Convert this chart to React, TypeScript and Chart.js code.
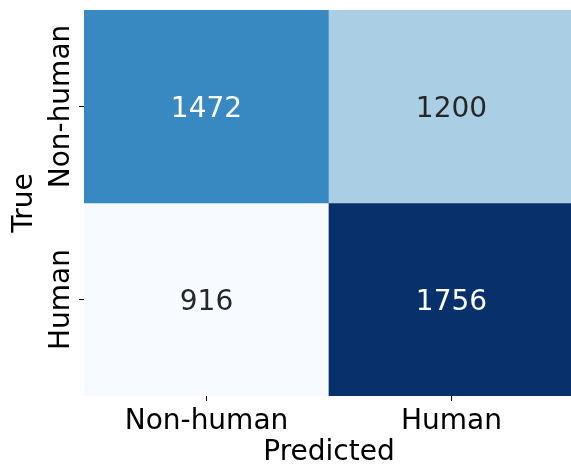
import React, { useEffect, useRef } from 'react';
import { Chart, registerables } from 'chart.js';

Chart.register(...registerables);

const predictedLabels = ['Non-human', 'Human'];
const trueLabels = ['Non-human', 'Human'];
const rowNonHuman = [1472, 1200];
const rowHuman = [916, 1756];
const rows = [rowNonHuman, rowHuman];
const xTitle = 'Predicted';
const yTitle = 'True';

const FONT = '"DejaVu Sans", Verdana, sans-serif';

// matplotlib "Blues" colormap stops
const BLUES = [
  [247, 251, 255], [222, 235, 247], [198, 219, 239], [158, 202, 225],
  [107, 174, 214], [66, 146, 198], [33, 113, 181], [8, 81, 156], [8, 48, 107],
];
const allVals = rows.flat();
const vmin = Math.min(...allVals);
const vmax = Math.max(...allVals);

function blues(v: number): number[] {
  const t = Math.max(0, Math.min(1, (v - vmin) / (vmax - vmin)));
  const p = t * (BLUES.length - 1);
  const i = Math.min(BLUES.length - 2, Math.floor(p));
  const f = p - i;
  return BLUES[i].map((c, k) => Math.round(c + (BLUES[i + 1][k] - c) * f));
}
function cellColor(v: number) {
  const [r, g, b] = blues(v);
  return `rgb(${r},${g},${b})`;
}
function textColor(v: number) {
  const lin = blues(v).map((c) => {
    const s = c / 255;
    return s <= 0.03928 ? s / 12.92 : Math.pow((s + 0.055) / 1.055, 2.4);
  });
  const lum = 0.2126 * lin[0] + 0.7152 * lin[1] + 0.0722 * lin[2];
  return lum > 0.408 ? '#262626' : '#ffffff';
}

const annotatePlugin = {
  id: 'annotate',
  afterDatasetsDraw(chart: any) {
    const { ctx } = chart;
    const x = chart.scales.x;
    const y = chart.scales.y;
    ctx.save();
    ctx.font = `28px ${FONT}`;
    ctx.textAlign = 'center';
    ctx.textBaseline = 'alphabetic';
    rows.forEach((row, r) => {
      row.forEach((v, c) => {
        const px = x.getPixelForValue(c);
        const py = y.getPixelForValue(r + 0.5);
        ctx.fillStyle = textColor(v);
        ctx.fillText(String(v), px, py + 10);
      });
    });
    ctx.restore();
  },
  afterDraw(chart: any) {
    const { ctx } = chart;
    const y = chart.scales.y;
    ctx.save();
    ctx.font = `28px ${FONT}`;
    ctx.fillStyle = '#000000';
    ctx.textAlign = 'center';
    ctx.textBaseline = 'alphabetic';
    trueLabels.forEach((lab, r) => {
      const py = y.getPixelForValue(r + 0.5);
      ctx.save();
      ctx.translate(69, py);
      ctx.rotate(-Math.PI / 2);
      ctx.fillText(lab, 0, 0);
      ctx.restore();
    });
    ctx.restore();
  },
};

export default function App() {
  const ref = useRef<HTMLCanvasElement>(null);
  useEffect(() => {
    if (!ref.current) return;
    const datasets = rows.map((row, r) => ({
      label: trueLabels[r],
      data: row.map((v, c) => ({ x: predictedLabels[c], y: [r, r + 1] })),
      backgroundColor: row.map((v) => cellColor(v)),
      borderWidth: 0,
      grouped: false,
      barPercentage: 1,
      categoryPercentage: 1,
    }));
    const chart = new Chart(ref.current, {
      type: 'bar',
      data: { labels: predictedLabels, datasets: datasets as any },
      options: {
        animation: false,
        responsive: false,
        layout: { padding: { top: 10, right: 6, left: 0, bottom: 0 } },
        plugins: { legend: { display: false }, tooltip: { enabled: false } },
        scales: {
          x: {
            type: 'category',
            offset: true,
            grid: { offset: false, drawOnChartArea: false, drawTicks: true, tickLength: 5, color: '#000000', tickWidth: 1 },
            border: { display: false },
            ticks: { color: '#000000', font: { family: FONT, size: 28 }, padding: 4, maxRotation: 0 },
            title: {
              display: true, text: xTitle, color: '#000000',
              font: { family: FONT, size: 28, lineHeight: 0.9 }, padding: { top: 0, bottom: 0 },
            },
            afterFit: (s: any) => { s.height = 69; },
          },
          y: {
            type: 'linear',
            min: 0,
            max: 2,
            reverse: true,
            afterBuildTicks: (s: any) => { s.ticks = [{ value: 0.5 }, { value: 1.5 }]; },
            grid: { drawOnChartArea: false, drawTicks: true, tickLength: 5, color: '#000000', tickWidth: 1 },
            border: { display: false },
            ticks: { display: false },
            title: {
              display: true, text: yTitle, color: '#000000',
              font: { family: FONT, size: 28, lineHeight: 1 }, padding: { top: 11, bottom: 0 },
            },
            afterFit: (s: any) => { s.width = 84; },
          },
        },
      },
      plugins: [annotatePlugin],
    });
    return () => chart.destroy();
  }, []);
  return (
    <div style={{ position: 'fixed', left: 0, top: 0, width: 571, height: 465, overflow: 'hidden', background: '#ffffff' }}>
      <canvas ref={ref} width={580} height={465} style={{ display: 'block' }} />
    </div>
  );
}
